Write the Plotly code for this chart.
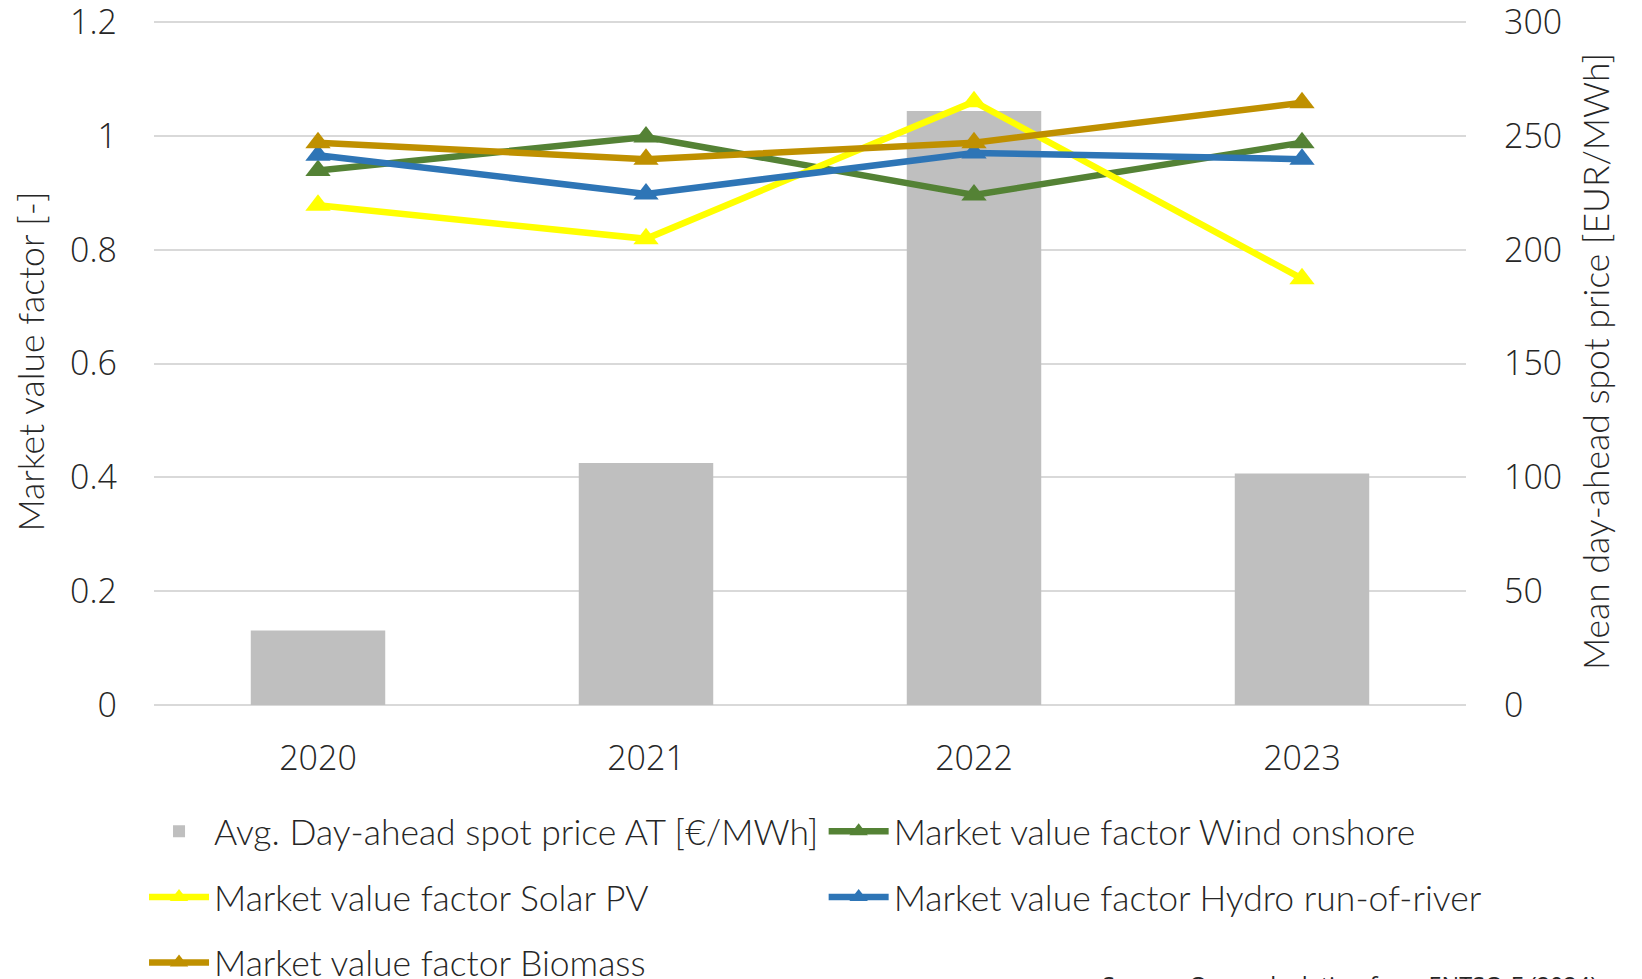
'''Market value factors and day-ahead spot price AT'''
import plotly.graph_objects as go

# data
years = ["2020", "2021", "2022", "2023"]
spot_price = [32.7, 106.3, 260.9, 101.7]
mvf_wind = [0.939, 0.998, 0.896, 0.988]
mvf_solar = [0.878, 0.819, 1.060, 0.749]
mvf_hydro = [0.966, 0.898, 0.970, 0.959]
mvf_biomass = [0.988, 0.959, 0.988, 1.058]

left_ticks = [0, 0.2, 0.4, 0.6, 0.8, 1, 1.2]
right_ticks = [0, 50, 100, 150, 200, 250, 300]

TICK_FONT = dict(family="Open Sans", size=34, color="#262626", weight=300)
TEXT_FONT = dict(family="Lato", size=35.5, color="#262626", weight=300)

# a little headroom so the top gridline is not clipped away
PAD = 687 / 683

fig = go.Figure()

fig.add_trace(go.Bar(
    x=years, y=spot_price, name="Avg. Day-ahead spot price AT [€/MWh]",
    marker_color="#bfbfbf", marker_line_width=0, width=0.41,
    yaxis="y", legend="legend",
))

lines = [
    ("Market value factor Wind onshore", mvf_wind, "#548235", "legend2"),
    ("Market value factor Solar PV", mvf_solar, "#ffff00", "legend3"),
    ("Market value factor Hydro run-of-river", mvf_hydro, "#2e75b6", "legend4"),
    ("Market value factor Biomass", mvf_biomass, "#bf9000", "legend5"),
]
for name, vals, col, leg in lines:
    fig.add_trace(go.Scatter(
        x=years, y=vals, name=name, mode="lines+markers",
        line=dict(color=col, width=6.5),
        marker=dict(symbol="triangle-up", size=22, color=col),
        yaxis="y2", legend=leg,
    ))


def legend_at(x, y):
    return dict(
        x=x, y=y, xref="paper", yref="container",
        xanchor="left", yanchor="middle",
        font=TEXT_FONT, bgcolor="rgba(0,0,0,0)", itemwidth=60,
    )


fig.update_layout(
    width=1642, height=979,
    margin=dict(l=146, r=184, t=10, b=282, autoexpand=False),
    paper_bgcolor="white", plot_bgcolor="white",
    xaxis=dict(
        type="category", tickfont=TICK_FONT, showgrid=False,
        showline=False, ticks="", ticklabelstandoff=30,
    ),
    yaxis=dict(
        side="right", range=[0, 300 * PAD], tickvals=right_ticks,
        tickfont=TICK_FONT, showgrid=True, gridcolor="#d9d9d9", gridwidth=2,
        zeroline=True, zerolinecolor="#d9d9d9", zerolinewidth=2,
        ticklabelstandoff=37, ticklabeloverflow="allow",
        title=dict(text="Mean day-ahead spot price [EUR/MWh]", font=TEXT_FONT, standoff=22),
    ),
    yaxis2=dict(
        overlaying="y", side="left", range=[0, 1.2 * PAD], tickvals=left_ticks,
        tickfont=TICK_FONT, showgrid=False, zeroline=False,
        ticklabelstandoff=36, ticklabeloverflow="allow",
        title=dict(text="Market value factor [-]", font=TEXT_FONT, standoff=14),
    ),
    legend=legend_at(-0.0076, 0.1586),
    legend2=legend_at(0.5104, 0.1586),
    legend3=legend_at(-0.0076, 0.0916),
    legend4=legend_at(0.5104, 0.0916),
    legend5=legend_at(-0.0076, 0.0246),
    showlegend=True,
    annotations=[dict(
        text="Source: Own calculation from ENTSO-E (2024)",
        xref="paper", yref="paper", x=1.1014, y=-0.381,
        xanchor="right", yanchor="top", showarrow=False,
        font=dict(family="Open Sans", size=23.4, color="#262626"),
    )],
)

fig.write_html("out.html")
